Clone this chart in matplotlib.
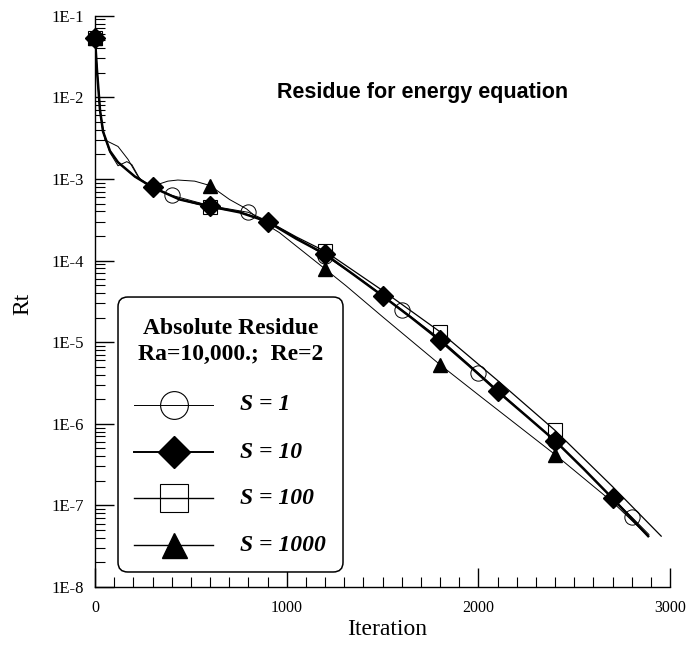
import matplotlib
matplotlib.use("Agg")
import matplotlib.pyplot as plt
from matplotlib.patches import FancyBboxPatch
from matplotlib.ticker import LogLocator, FixedLocator, FixedFormatter, MultipleLocator, NullFormatter
import numpy as np

plt.rcParams['font.family'] = ['Liberation Serif', 'DejaVu Serif']

# S = 1 (thin line, open circles)
s1_line_x = [0, 10, 26, 42, 78, 120, 166, 192, 234, 300, 400, 600, 800, 900, 1050, 1200,
             1400, 1600, 1800, 2000, 2200, 2400, 2600, 2800, 2890]
s1_line_y = [0.053, 0.022, 7e-3, 3.8e-3, 2.1e-3, 1.45e-3, 1.63e-3, 1.5e-3, 1.0e-3, 8.0e-4,
             6.3e-4, 4.7e-4, 3.9e-4, 3.05e-4, 1.9e-4, 1.15e-4, 5.6e-5, 2.5e-5, 1.1e-5,
             4.2e-6, 1.6e-6, 6.2e-7, 2.1e-7, 7.2e-8, 4.4e-8]
s1_mark_x = [0, 400, 800, 1200, 1600, 2000, 2400, 2800]
s1_mark_y = [0.053, 6.3e-4, 3.9e-4, 1.15e-4, 2.5e-5, 4.2e-6, 6.2e-7, 7.2e-8]

# S = 10 (thick line, diamonds)
s10_line_x = [0, 10, 26, 42, 78, 120, 208, 300, 442, 600, 754, 900, 1050, 1200, 1350, 1500,
              1650, 1800, 1950, 2100, 2250, 2400, 2550, 2700, 2886]
s10_line_y = [0.053, 0.022, 7e-3, 3.8e-3, 2.2e-3, 1.6e-3, 1.07e-3, 7.9e-4, 5.6e-4, 4.6e-4,
              3.9e-4, 3.0e-4, 1.85e-4, 1.2e-4, 6.7e-5, 3.7e-5, 2.0e-5, 1.05e-5, 5.2e-6,
              2.5e-6, 1.25e-6, 6.2e-7, 2.8e-7, 1.22e-7, 4.2e-8]
s10_mark_x = [0, 300, 600, 900, 1200, 1500, 1800, 2100, 2400, 2700]
s10_mark_y = [0.053, 7.9e-4, 4.6e-4, 3.0e-4, 1.2e-4, 3.7e-5, 1.05e-5, 2.5e-6, 6.2e-7, 1.22e-7]

# S = 100 (open squares)
s100_line_x = [0, 10, 26, 42, 78, 120, 208, 300, 442, 600, 754, 900, 1050, 1200, 1500,
               1800, 2100, 2400, 2700, 2954]
s100_line_y = [0.053, 0.022, 7e-3, 3.8e-3, 2.2e-3, 1.6e-3, 1.07e-3, 7.9e-4, 5.6e-4, 4.5e-4,
               3.95e-4, 3.05e-4, 1.95e-4, 1.3e-4, 4.3e-5, 1.34e-5, 3.4e-6, 8.3e-7, 1.7e-7,
               4.2e-8]
s100_mark_x = [0, 600, 1200, 1800, 2400]
s100_mark_y = [0.053, 4.5e-4, 1.3e-4, 1.34e-5, 8.3e-7]

# S = 1000 (filled triangles)
s1000_line_x = [0, 10, 26, 52, 120, 172, 224, 260, 300, 330, 380, 432, 520, 600, 702, 790,
                874, 962, 1200, 1310, 1500, 1800, 2018, 2400, 2700, 2886]
s1000_line_y = [0.053, 0.022, 7e-3, 3.0e-3, 2.5e-3, 1.74e-3, 1.07e-3, 8.9e-4, 8.0e-4,
                8.6e-4, 9.4e-4, 9.7e-4, 9.4e-4, 8.3e-4, 5.6e-4, 4.3e-4, 2.95e-4, 2.2e-4,
                7.9e-5, 4.9e-5, 2.05e-5, 5.3e-6, 2.1e-6, 4.2e-7, 1.1e-7, 4.2e-8]
s1000_mark_x = [0, 600, 1200, 1800, 2400]
s1000_mark_y = [0.053, 8.3e-4, 7.9e-5, 5.3e-6, 4.2e-7]

labels = ['S = 1', 'S = 10', 'S = 100', 'S = 1000']
y_ticks = [1e-8, 1e-7, 1e-6, 1e-5, 1e-4, 1e-3, 1e-2, 1e-1]
y_tick_labels = ['1E-8', '1E-7', '1E-6', '1E-5', '1E-4', '1E-3', '1E-2', '1E-1']

fig = plt.figure(figsize=(6.86, 6.55), dpi=100)
ax = fig.add_axes([0.1385, 0.1038, 0.8382, 0.8722])

ax.plot(s1_line_x, s1_line_y, color='black', lw=0.7)
ax.plot(s100_line_x, s100_line_y, color='black', lw=0.9)
ax.plot(s1000_line_x, s1000_line_y, color='black', lw=0.7)
ax.plot(s10_line_x, s10_line_y, color='black', lw=1.8)

ax.plot(s1_mark_x, s1_mark_y, ls='none', marker='o', ms=11, mfc='none', mec='black',
        mew=0.7, clip_on=False)
ax.plot(s100_mark_x, s100_mark_y, ls='none', marker='s', ms=10.5, mfc='none', mec='black',
        mew=0.8, clip_on=False)
ax.plot(s10_mark_x, s10_mark_y, ls='none', marker='D', ms=10, color='black', clip_on=False)
ax.plot(s1000_mark_x, s1000_mark_y, ls='none', marker='^', ms=10.5, color='black',
        clip_on=False)

ax.set_yscale('log')
ax.set_xlim(0, 3000)
ax.set_ylim(1e-8, 1e-1)

for side in ['top', 'right']:
    ax.spines[side].set_visible(False)
for side in ['left', 'bottom']:
    ax.spines[side].set_linewidth(1.0)

ax.xaxis.set_major_locator(MultipleLocator(1000))
ax.xaxis.set_minor_locator(MultipleLocator(100))
ax.yaxis.set_major_locator(FixedLocator(y_ticks))
ax.yaxis.set_major_formatter(FixedFormatter(y_tick_labels))
ax.yaxis.set_minor_locator(LogLocator(base=10, subs=np.arange(2, 10), numticks=20))
ax.yaxis.set_minor_formatter(NullFormatter())
ax.tick_params(which='major', direction='in', length=14, width=1.0, labelsize=12, pad=8)
ax.tick_params(which='minor', direction='in', length=7, width=0.8)
ax.tick_params(axis='x', pad=9, labelsize=11.5)

ax.set_xlabel('Iteration', fontsize=17)
ax.set_ylabel('Rt', fontsize=17)
ax.xaxis.set_label_coords(0.508, -0.056)
ax.yaxis.set_label_coords(-0.108, 0.495)

ax.text(0.569, 0.866, 'Residue for energy equation', transform=ax.transAxes,
        family='Liberation Sans', weight='bold', fontsize=15.5, ha='center', va='center')

# legend box drawn by hand (rounded frame, two-line title, big markers)
box = FancyBboxPatch((0.0400, 0.0263), 0.3913, 0.4813, boxstyle='round,pad=0,rounding_size=0.017',
                     transform=ax.transAxes, facecolor='white', edgecolor='black', lw=1.1,
                     zorder=5, clip_on=False)
ax.add_patch(box)
ax.text(0.2365, 0.4300, 'Absolute Residue\nRa=10,000.;  Re=2', transform=ax.transAxes,
        ha='center', va='center', multialignment='center', linespacing=1.3,
        fontsize=17, weight='bold', zorder=6)

entry_y = [0.3186, 0.2363, 0.1558, 0.0735]
handle_style = [
    dict(lw=0.7, marker='o', ms=20, mfc='none', mec='black', mew=0.8),
    dict(lw=1.4, marker='D', ms=16, mfc='black', mec='black'),
    dict(lw=1.0, marker='s', ms=20, mfc='none', mec='black', mew=0.8),
    dict(lw=1.0, marker='^', ms=18, mfc='black', mec='black'),
]
for lab, yy, st in zip(labels, entry_y, handle_style):
    ax.plot([0.0678, 0.2052], [yy, yy], transform=ax.transAxes, color='black',
            lw=st['lw'], zorder=6, clip_on=False)
    ax.plot([0.1374], [yy], transform=ax.transAxes, ls='none', zorder=7, clip_on=False,
            **{k: v for k, v in st.items() if k != 'lw'})
    ax.text(0.2522, yy, lab, transform=ax.transAxes, ha='left', va='center',
            fontsize=17, weight='bold', style='italic', zorder=6)

fig.savefig('out.png', dpi=100)
